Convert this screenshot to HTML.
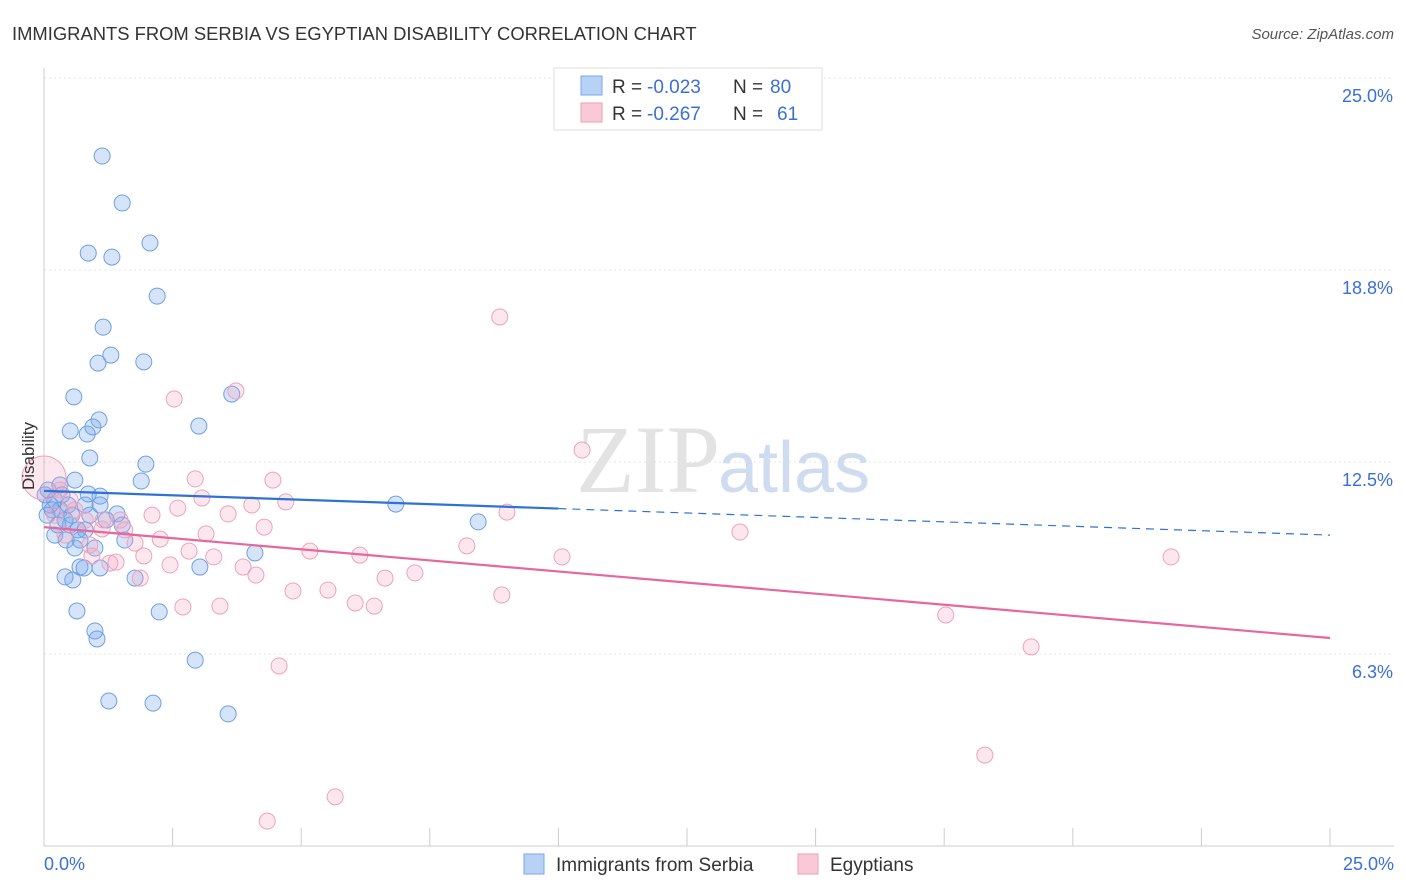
<!DOCTYPE html>
<html><head><meta charset="utf-8"><style>
body{margin:0;background:#fff;font-family:"Liberation Sans",sans-serif}
svg{display:block}
</style></head><body>
<svg id="chart" width="1406" height="892" xmlns="http://www.w3.org/2000/svg">
<text x="12" y="40" font-size="18.4" fill="#333">IMMIGRANTS FROM SERBIA VS EGYPTIAN DISABILITY CORRELATION CHART</text>
<text x="1394" y="39" font-size="15" fill="#555" font-style="italic" text-anchor="end">Source: ZipAtlas.com</text>
<g id="grid"></g>
<text x="720" y="492" font-size="96" fill="#e3e3e3" text-anchor="end" font-family="Liberation Serif,serif">ZIP</text>
<text x="718" y="492" font-size="72" fill="#cfdcf0" font-family="Liberation Sans,sans-serif">atlas</text>
<g id="points"></g>
<g id="lines"></g>
<text transform="translate(34,456) rotate(-90)" font-size="17" fill="#333" text-anchor="middle">Disability</text>
<text x="44" y="870" font-size="18" fill="#3a6fd8">0.0%</text>
<text x="1394" y="870" font-size="18" fill="#3a6fd8" text-anchor="end">25.0%</text>
<g>
<rect x="554" y="68" width="268" height="62" fill="#fff" stroke="#ddd"/>
<rect x="581" y="76" width="21" height="19" fill="#b8d2f5" stroke="#7aa6e8"/>
<rect x="581" y="103" width="21" height="19" fill="#f9c9d8" stroke="#eaa0ba"/>
<text x="612" y="93" font-size="19" fill="#333">R =</text>
<text x="647" y="93" font-size="19" fill="#3a6fd8">-0.023</text>
<text x="733" y="93" font-size="19" fill="#333">N =</text>
<text x="770" y="93" font-size="19" fill="#3a6fd8">80</text>
<text x="612" y="120" font-size="19" fill="#333">R =</text>
<text x="647" y="120" font-size="19" fill="#3a6fd8">-0.267</text>
<text x="733" y="120" font-size="19" fill="#333">N =</text>
<text x="777" y="120" font-size="19" fill="#3a6fd8">61</text>
</g>
<g>
<rect x="524" y="854" width="20" height="20" fill="#b8d2f5" stroke="#7aa6e8"/>
<text x="556" y="871" font-size="19" fill="#333">Immigrants from Serbia</text>
<rect x="798" y="854" width="20" height="20" fill="#f9c9d8" stroke="#eaa0ba"/>
<text x="830" y="871" font-size="19" fill="#333">Egyptians</text>
</g>
</svg>
<script>
const yTicks=[6.25,12.5,18.75,25];
const yTickLabels=["6.3%","12.5%","18.8%","25.0%"];
const xTicks=[0,2.5,5,7.5,10,12.5,15,17.5,20,22.5,25];
const serbiaX=[1.13,1.52,0.86,1.32,2.06,2.20,1.15,1.30,1.05,1.94,0.58,3.65,1.07,0.51,0.84,0.95,3.01,0.89,1.98,0.60,1.89,0.86,1.09,6.84,8.44,1.42,1.52,1.57,4.10,3.03,0.41,0.56,0.70,0.78,1.09,1.77,0.64,2.24,0.99,1.03,2.94,1.26,2.12,3.58,0.21,0.31,0.12,0.41,0.51,0.21,0.60,0.70,0.80,0.35,0.47,0.54,0.08,0.16,0.27,0.89,0.80,1.09,1.21,0.31,0.02,0.06,0.66,0.43,0.99];
const serbiaY=[22.46,20.93,19.30,19.17,19.63,17.90,16.89,15.98,15.72,15.76,14.62,14.71,13.87,13.51,13.41,13.64,13.67,12.63,12.43,11.91,11.88,11.46,11.39,11.13,10.55,10.81,10.45,9.96,9.54,9.08,8.76,8.66,9.08,9.05,9.05,8.72,7.65,7.62,7.00,6.74,6.05,4.72,4.65,4.30,11.26,10.94,11.10,10.61,10.45,10.12,9.70,9.96,10.29,11.43,11.10,10.77,11.59,10.94,10.45,10.77,11.10,11.10,10.61,11.75,11.43,10.77,10.29,9.96,9.70];
const egyptX=[8.86,3.73,2.53,10.46,2.94,4.45,3.07,4.70,9.00,2.60,4.04,3.58,2.10,13.53,4.28,3.15,2.26,1.57,1.77,1.13,5.17,6.14,8.22,10.07,21.91,0.93,1.94,2.82,3.30,3.87,2.45,1.40,1.28,1.87,4.12,6.63,7.21,4.84,5.52,6.05,6.42,8.90,2.70,3.42,17.53,19.19,4.57,18.29,5.66,4.34,0.31,0.80,0.60,1.15,1.48,0.41,0.51,0.89,0.21];
const egyptY=[17.22,14.81,14.55,12.89,11.95,11.91,11.33,11.20,10.87,11.00,11.10,10.81,10.77,10.22,10.38,10.16,9.99,10.29,9.86,10.32,9.60,9.47,9.77,9.41,9.41,9.44,9.44,9.60,9.41,9.08,9.15,9.24,9.21,8.72,8.82,8.72,8.89,8.30,8.33,7.91,7.81,8.17,7.78,7.81,7.52,6.48,5.86,2.96,1.60,0.81,11.59,10.61,10.94,10.61,10.61,10.12,11.26,9.80,10.77];
const bigEgypt=[0,11.98];
const serbiaTrend=[11.56,10.12];
const egyptTrend=[10.38,6.77];
const NS="http://www.w3.org/2000/svg";
const X=v=>44+v/25*1286, Y=v=>846-v/25*768;
function mk(t,a,p){const e=document.createElementNS(NS,t);for(const k in a)e.setAttribute(k,a[k]);p.appendChild(e);return e;}
const grid=document.getElementById('grid');
yTicks.forEach((t,i)=>{
 const l=mk('line',{x1:44,x2:1394,y1:Y(t),y2:Y(t),stroke:'#e4e4e4','stroke-dasharray':'2,3'},grid);
 
 
 const tx=mk('text',{x:1393,y:Y(t)+24,'font-size':18,fill:'#3a6fd8','text-anchor':'end'},grid);
 tx.textContent=yTickLabels[i];
 
 
});
const ax=mk('line',{x1:44,x2:44,y1:68,y2:846,stroke:'#ccc'},grid);


const bx=mk('line',{x1:44,x2:1394,y1:846,y2:846,stroke:'#ccc'},grid);


xTicks.forEach(t=>{
 const l=mk('line',{x1:X(t),x2:X(t),y1:828,y2:846,stroke:'#ccc'},grid);
 
 
});
const pts=document.getElementById('points');
serbiaX.forEach((x,i)=>{
 const c=mk('circle',{cx:X(x),cy:Y(serbiaY[i]),r:8,fill:'rgba(120,165,235,0.3)',stroke:'#6f9fe2','stroke-width':1},pts);
 
 
});
egyptX.forEach((x,i)=>{
 const c=mk('circle',{cx:X(x),cy:Y(egyptY[i]),r:8,fill:'rgba(245,160,190,0.25)',stroke:'#eca3bd','stroke-width':1},pts);
 
 
});
const bg=mk('circle',{cx:X(bigEgypt[0]),cy:Y(bigEgypt[1]),r:22,fill:'rgba(245,160,190,0.25)',stroke:'#eca3bd'},pts);


const ln=document.getElementById('lines');
const s=serbiaTrend, e=egyptTrend, yAt=(a,x)=>a[0]+(a[1]-a[0])*x/25;
const l1=mk('line',{x1:X(0),y1:Y(s[0]),x2:X(10),y2:Y(yAt(s,10)),stroke:'#2e72d8','stroke-width':2.2},ln);


const l2=mk('line',{x1:X(10),y1:Y(yAt(s,10)),x2:X(25),y2:Y(s[1]),stroke:'#2e72d8','stroke-width':1.2,'stroke-dasharray':'8,6'},ln);


const l3=mk('line',{x1:X(0),y1:Y(e[0]),x2:X(25),y2:Y(e[1]),stroke:'#e8679a','stroke-width':2.2},ln);


</script>
</body></html>
